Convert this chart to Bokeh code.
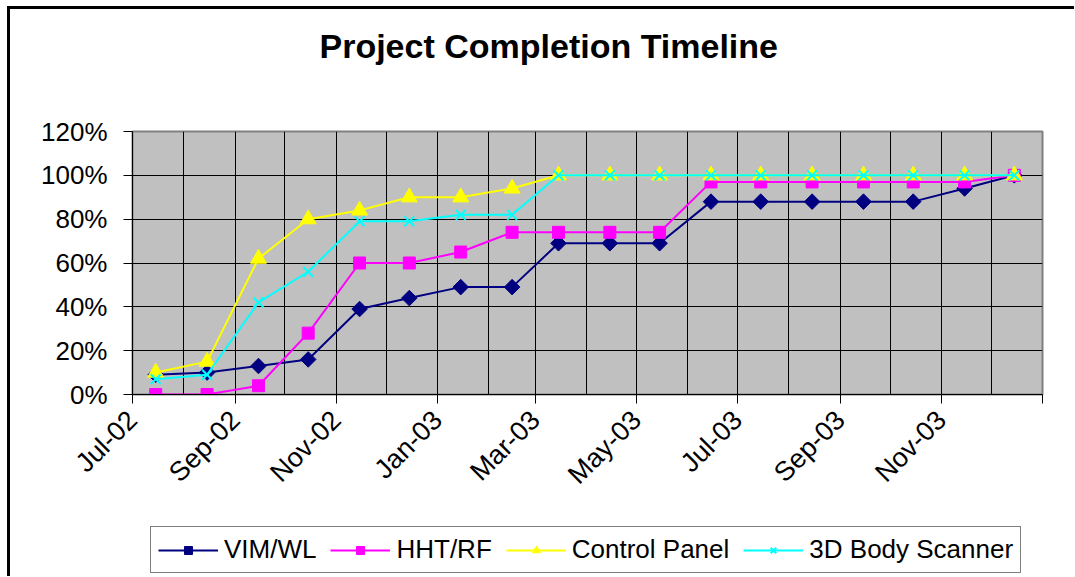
import pandas as pd
from bokeh.plotting import figure
from bokeh.layouts import column
from bokeh.models import (Range1d, FixedTicker, DatetimeTickFormatter, Title,
                          NumeralTickFormatter, Legend, LegendItem, ColumnDataSource)
from bokeh.embed import file_html
from bokeh.resources import INLINE

# ---------------- data ----------------
title_text = "Project Completion Timeline"
dates = ["2002-07-15", "2002-08-15", "2002-09-15", "2002-10-15", "2002-11-15",
         "2002-12-15", "2003-01-15", "2003-02-15", "2003-03-15", "2003-04-15",
         "2003-05-15", "2003-06-15", "2003-07-15", "2003-08-15", "2003-09-15",
         "2003-10-15", "2003-11-15", "2003-12-15"]
series_names = ["VIM/WL", "HHT/RF", "Control Panel", "3D Body Scanner"]
vim_wl = [0.09, 0.10, 0.13, 0.16, 0.39, 0.44, 0.49, 0.49, 0.69, 0.69,
          0.69, 0.88, 0.88, 0.88, 0.88, 0.88, 0.94, 1.00]
hht_rf = [0.00, 0.00, 0.04, 0.28, 0.60, 0.60, 0.65, 0.74, 0.74, 0.74,
          0.74, 0.97, 0.97, 0.97, 0.97, 0.97, 0.97, 1.00]
control_panel = [0.10, 0.15, 0.62, 0.80, 0.84, 0.90, 0.90, 0.94, 1.00, 1.00,
                 1.00, 1.00, 1.00, 1.00, 1.00, 1.00, 1.00, 1.00]
body_scanner = [0.07, 0.09, 0.42, 0.56, 0.79, 0.79, 0.82, 0.82, 1.00, 1.00,
                1.00, 1.00, 1.00, 1.00, 1.00, 1.00, 1.00, 1.00]
x_tick_labels = ["Jul-02", "Sep-02", "Nov-02", "Jan-03", "Mar-03",
                 "May-03", "Jul-03", "Sep-03", "Nov-03"]
x_axis_end_label = "Jan-04"
y_ticks = [0.0, 0.2, 0.4, 0.6, 0.8, 1.0, 1.2]

# ---------------- helpers ----------------
def to_ms(idx):
    idx = pd.DatetimeIndex(idx)
    return [float(v) for v in (idx - pd.Timestamp("1970-01-01")) // pd.Timedelta(milliseconds=1)]

x_dates = pd.to_datetime(dates)
tick_dates = pd.to_datetime(x_tick_labels, format="%b-%y")
end_date = pd.to_datetime(x_axis_end_label, format="%b-%y")
grid_dates = pd.date_range(tick_dates[0], end_date, freq="MS")

FONT = "Liberation Sans"

p = figure(x_axis_type="datetime",
           frame_width=910, frame_height=263,
           min_border_left=122, min_border_right=32,
           min_border_top=122, min_border_bottom=125,
           x_range=Range1d(start=tick_dates[0], end=end_date),
           y_range=Range1d(start=y_ticks[0], end=y_ticks[-1]),
           output_backend="svg", toolbar_location=None,
           background_fill_color="#C0C0C0", border_fill_color="white",
           outline_line_color="#808080", outline_line_width=2)

# title: spacer (closest to the frame) then the real title above it
spacer = Title(text=" ", text_font=FONT, text_font_size="40px", standoff=16)
p.add_layout(spacer, "above")
main_title = Title(text=title_text, text_font=FONT, text_font_size="34px",
                   text_font_style="bold", text_color="black",
                   align="left", offset=187)
p.add_layout(main_title, "above")

# axes
xa = p.xaxis[0]
xa.ticker = FixedTicker(ticks=to_ms(tick_dates), minor_ticks=to_ms([end_date]))
xa.formatter = DatetimeTickFormatter(years="%b-%y", months="%b-%y", days="%b-%y",
                                     hours="%b-%y", minutes="%b-%y", seconds="%b-%y",
                                     milliseconds="%b-%y", minsec="%b-%y", hourmin="%b-%y")
xa.major_label_orientation = 0.785398
xa.major_label_text_font = FONT
xa.major_label_text_font_size = "27px"
xa.major_label_text_color = "black"
xa.major_tick_in = 0
xa.major_tick_out = 9
xa.minor_tick_in = 0
xa.minor_tick_out = 9
xa.major_tick_line_color = "black"
xa.minor_tick_line_color = "black"
xa.axis_line_color = "black"
xa.major_label_standoff = 12

ya = p.yaxis[0]
ya.ticker = FixedTicker(ticks=y_ticks)
ya.formatter = NumeralTickFormatter(format="0%")
ya.major_label_text_font = FONT
ya.major_label_text_font_size = "26px"
ya.major_label_text_color = "black"
ya.major_tick_in = 0
ya.major_tick_out = 9
ya.minor_tick_line_color = None
ya.major_tick_line_color = "black"
ya.axis_line_color = "black"
ya.major_label_standoff = 16

# grids
p.xgrid.ticker = FixedTicker(ticks=to_ms(grid_dates))
p.xgrid.grid_line_color = "black"
p.xgrid.grid_line_width = 1
p.ygrid.ticker = FixedTicker(ticks=y_ticks)
p.ygrid.grid_line_color = "black"
p.ygrid.grid_line_width = 1

# legend strip (its own small figure below the chart; its frame lines up with the chart's)
lf = figure(width=1064, height=57, min_border=0,
            x_range=Range1d(0, 1), y_range=Range1d(0, 1),
            x_axis_location=None, y_axis_location=None,
            output_backend="svg", toolbar_location=None,
            background_fill_color="white", border_fill_color="white",
            outline_line_color=None)
lf.grid.visible = False

# series
styles = [
    dict(color="#000080", marker="square", size=11, angle=0.785398, line_width=1),
    dict(color="#FF00FF", marker="square", size=12, angle=0.0, line_width=1),
    dict(color="#FFFF00", marker="triangle", size=16, angle=0.0, line_width=1),
    dict(color="#00FFFF", marker="x", size=14, angle=0.0, line_width=2),
]
values = [vim_wl, hht_rf, control_panel, body_scanner]
items = []
for name, vals, st in zip(series_names, values, styles):
    src = ColumnDataSource(dict(x=x_dates, y=vals))
    p.line("x", "y", source=src, line_color=st["color"], line_width=2)
    p.scatter("x", "y", source=src, marker=st["marker"], size=st["size"],
              angle=st["angle"], fill_color=st["color"], line_color=st["color"],
              line_width=st["line_width"])
    # legend proxies sharing the same data (outside the strip's ranges, so not drawn)
    ln = lf.line("x", "y", source=src, line_color=st["color"], line_width=2)
    sc = lf.scatter("x", "y", source=src, marker=st["marker"], size=st["size"],
                    angle=st["angle"], fill_color=st["color"], line_color=st["color"],
                    line_width=st["line_width"])
    items.append(LegendItem(label=name, renderers=[ln, sc]))

legend = Legend(items=items, orientation="horizontal", location=(18, 3),
                label_text_font=FONT, label_text_font_size="26px",
                label_text_color="black",
                glyph_width=60, glyph_height=20, label_standoff=6,
                spacing=14, padding=7, margin=0,
                border_line_color="black", border_line_width=1,
                background_fill_color="white", background_fill_alpha=1.0)
lf.add_layout(legend)

page = column(p, lf, spacing=0,
              styles={"border-left": "3px solid black", "border-top": "3px solid black",
                      "margin-left": "7px", "margin-top": "6px"})

open("out.html", "w").write(file_html(page, INLINE))
